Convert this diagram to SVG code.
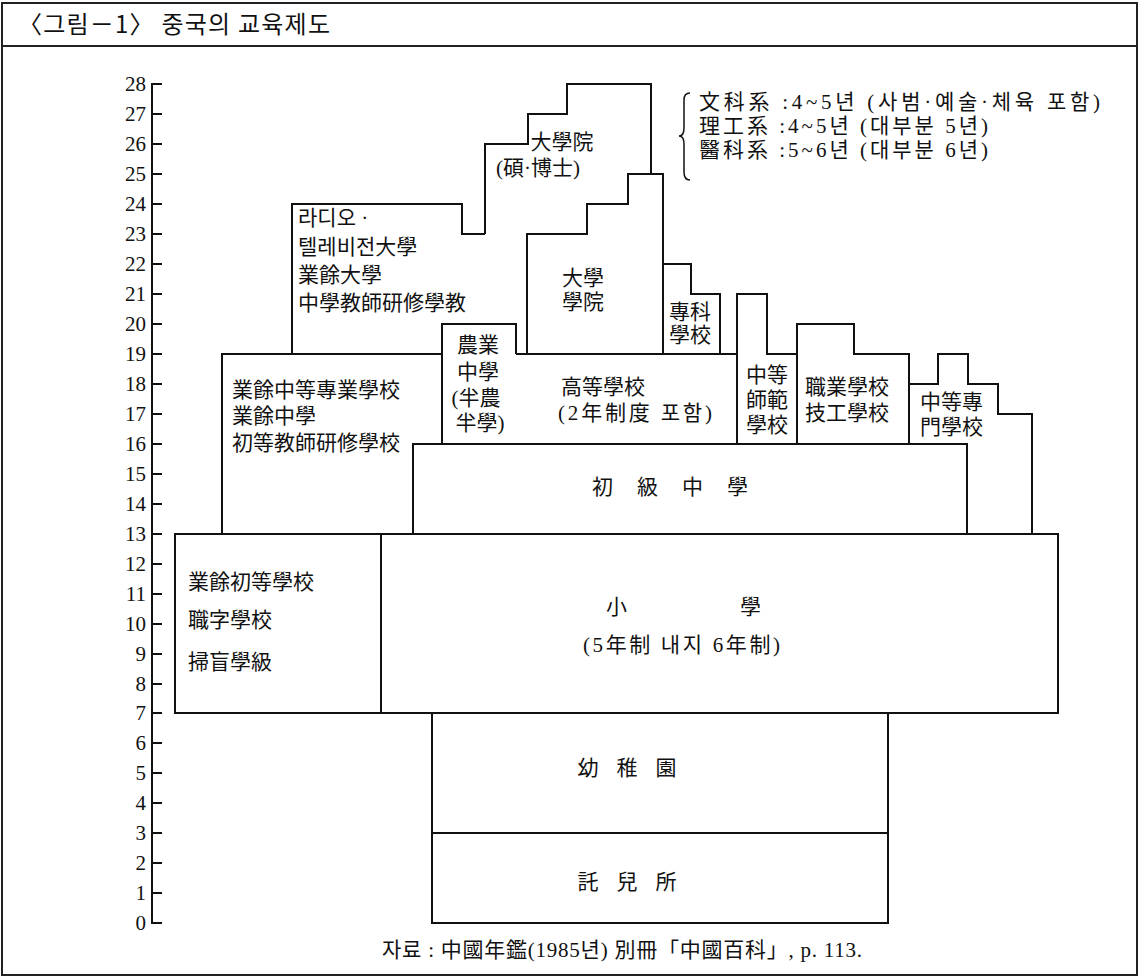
<svg xmlns="http://www.w3.org/2000/svg" width="1140" height="979" viewBox="0 0 1140 979">
<style>
.frame{fill:none;stroke:#222;stroke-width:2}
.box{fill:none;stroke:#111;stroke-width:2;stroke-linejoin:miter}
.ax{fill:none;stroke:#111;stroke-width:2}
.num{font-family:"Liberation Serif","Noto Sans CJK KR",serif;font-size:21px;fill:#111;text-anchor:end}
.t{font-family:"Liberation Serif","Noto Sans CJK KR",serif;font-size:21px;fill:#111}
.c{text-anchor:middle}
.title{font-family:"Noto Sans CJK KR",sans-serif;font-size:24px;fill:#111}
</style>
<rect width="1140" height="979" fill="#fff"/>
<g id="frame">
<rect class="frame" x="2" y="3" width="1135" height="972"/>
<line class="frame" x1="2" y1="46" x2="1137" y2="46"/>
<text class="title" x="18" y="33" textLength="312">〈그림－1〉 중국의 교육제도</text>
</g>
<g id="axis">
<path class="ax" d="M162,84 H152 V923 H162"/>
<path class="ax" d="M152,114h10M152,144h10M152,174h10M152,204h10M152,234h10M152,264h10M152,294h10M152,324h10M152,354h10M152,384h10M152,414h10M152,444h10M152,474h10M152,504h10M152,534h10M152,564h10M152,594h10M152,624h10M152,654h10M152,684h10M152,713h10M152,743h10M152,773h10M152,803h10M152,833h10M152,863h10M152,893h10"/>
<text class="num" x="146" y="91">28</text>
<text class="num" x="146" y="121">27</text>
<text class="num" x="146" y="151">26</text>
<text class="num" x="146" y="181">25</text>
<text class="num" x="146" y="211">24</text>
<text class="num" x="146" y="241">23</text>
<text class="num" x="146" y="271">22</text>
<text class="num" x="146" y="301">21</text>
<text class="num" x="146" y="331">20</text>
<text class="num" x="146" y="361">19</text>
<text class="num" x="146" y="391">18</text>
<text class="num" x="146" y="421">17</text>
<text class="num" x="146" y="451">16</text>
<text class="num" x="146" y="481">15</text>
<text class="num" x="146" y="511">14</text>
<text class="num" x="146" y="541">13</text>
<text class="num" x="146" y="571">12</text>
<text class="num" x="146" y="601">11</text>
<text class="num" x="146" y="631">10</text>
<text class="num" x="146" y="661">9</text>
<text class="num" x="146" y="691">8</text>
<text class="num" x="146" y="720">7</text>
<text class="num" x="146" y="750">6</text>
<text class="num" x="146" y="780">5</text>
<text class="num" x="146" y="810">4</text>
<text class="num" x="146" y="840">3</text>
<text class="num" x="146" y="870">2</text>
<text class="num" x="146" y="900">1</text>
<text class="num" x="146" y="930">0</text>
</g>
<g id="takuji">
<rect class="box" x="432" y="833" width="456" height="90"/>
<text class="t c" x="636" y="889" letter-spacing="18">託兒所</text>
</g>
<g id="youchien">
<rect class="box" x="432" y="713" width="456" height="120"/>
<text class="t c" x="636" y="775" letter-spacing="18">幼稚園</text>
</g>
<g id="yeoyu-chodeung">
<rect class="box" x="175" y="534" width="206" height="179"/>
<text class="t" x="188" y="589">業餘初等學校</text>
<text class="t" x="188" y="627">職字學校</text>
<text class="t" x="188" y="669">掃盲學級</text>
</g>
<g id="sohak">
<rect class="box" x="381" y="534" width="677" height="179"/>
<text class="t" x="606" y="614">小</text>
<text class="t" x="740" y="614">學</text>
<text class="t" x="583" y="652" textLength="197">(5年制 내지 6年制)</text>
</g>
<g id="yeoyu-jungdeung">
<path class="box" d="M413,534 V444 H442 V354 H222 V534"/>
<text class="t" x="232" y="397">業餘中等專業學校</text>
<text class="t" x="232" y="423">業餘中學</text>
<text class="t" x="232" y="450">初等教師研修學校</text>
</g>
<g id="chogeup-junghak">
<rect class="box" x="413" y="444" width="554" height="90"/>
<text class="t" x="592" y="494" textLength="156">初 級 中 學</text>
</g>
<g id="nongeop-junghak">
<path class="box" d="M442,444 V324 H516 V354"/>
<text class="t c" x="478" y="352">農業</text>
<text class="t c" x="478" y="379">中學</text>
<text class="t c" x="476" y="405">(半農</text>
<text class="t c" x="480" y="430">半學)</text>
</g>
<g id="godeung-hakgyo">
<path class="box" d="M516,354 H737"/>
<text class="t" x="561" y="394">高等學校</text>
<text class="t" x="558" y="420" textLength="154">(2年制度 포함)</text>
</g>
<g id="radio-tv">
<path class="box" d="M292,354 V204 H462 V234 H485"/>
<text class="t" x="298" y="225">라디오 ·</text>
<text class="t" x="298" y="254">텔레비전大學</text>
<text class="t" x="298" y="282">業餘大學</text>
<text class="t" x="298" y="310">中學教師研修學教</text>
</g>
<g id="daehakwon">
<path class="box" d="M485,234 V144 H528 V114 H567 V84 H651 V174"/>
<text class="t c" x="562" y="149">大學院</text>
<text class="t c" x="538" y="175">(碩·博士)</text>
</g>
<g id="daehak">
<path class="box" d="M527,354 V234 H587 V204 H628 V174 H663 V354"/>
<text class="t c" x="583" y="285">大學</text>
<text class="t c" x="583" y="309">學院</text>
</g>
<g id="jeonkwa">
<path class="box" d="M663,264 H691 V294 H720 V354"/>
<text class="t c" x="690" y="319">專科</text>
<text class="t c" x="690" y="342">學校</text>
</g>
<g id="sabeom">
<path class="box" d="M737,444 V294 H767 V354 H797"/>
<text class="t c" x="767" y="382">中等</text>
<text class="t c" x="767" y="407">師範</text>
<text class="t c" x="767" y="432">學校</text>
</g>
<g id="jigeop">
<path class="box" d="M797,444 V324 H854 V354 H909 V444"/>
<text class="t" x="805" y="394">職業學校</text>
<text class="t" x="805" y="420">技工學校</text>
</g>
<g id="jeonmun">
<path class="box" d="M909,384 H938 V354 H968 V384 H998 V414 H1032 V534"/>
<text class="t" x="920" y="409">中等專</text>
<text class="t" x="920" y="434">門學校</text>
</g>
<g id="note">
<path class="box" d="M690,93 Q684,93 684,100 V128 Q684,136 679,136 Q684,136 684,144 V172 Q684,180 690,180" style="stroke-width:1.5"/>
<text class="t" x="699" y="109" textLength="401">文科系 :4~5년 (사범·예술·체육 포함)</text>
<text class="t" x="699" y="133" textLength="289">理工系 :4~5년 (대부분 5년)</text>
<text class="t" x="699" y="157" textLength="289">醫科系 :5~6년 (대부분 6년)</text>
</g>
<g id="connectors"></g>
<g id="source">
<text class="t" x="382" y="957" textLength="480">자료 : 中國年鑑(1985년) 別冊「中國百科」, p. 113.</text>
</g>
</svg>
